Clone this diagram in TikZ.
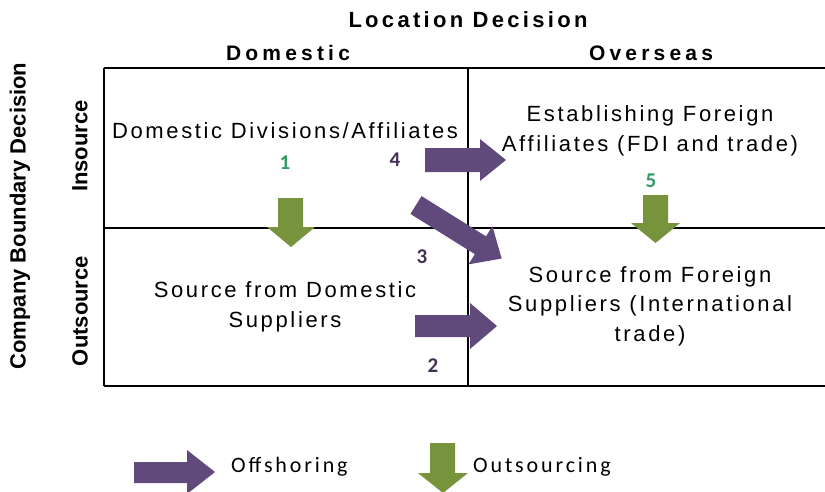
\documentclass[tikz,border=0pt]{standalone}
\usepackage{fontspec}
\setmainfont{Liberation Sans}
\newfontfamily\spaced[LetterSpace=12]{Liberation Sans}
\newfontfamily\spacedhead[LetterSpace=15]{Liberation Sans}
\newfontfamily\spacedcol[LetterSpace=20]{Liberation Sans}
\newfontfamily\numfont{Carlito}
\newfontfamily\legfont[LetterSpace=13]{Carlito}
\definecolor{offpurple}{RGB}{96,74,123}
\definecolor{outgreen}{RGB}{119,147,60}
\definecolor{numgreen}{RGB}{51,153,102}
\definecolor{numpurple}{RGB}{64,49,82}
\begin{document}
\begin{tikzpicture}[x=1pt,y=-1pt,
  gridline/.style={line width=2pt,black},
  celltext/.style={align=center,inner sep=0pt,font=\spaced\fontsize{22}{29.5}\selectfont},
  colhead/.style={inner sep=0pt,font=\spacedcol\bfseries\fontsize{21}{25}\selectfont},
  rowhead/.style={inner sep=0pt,rotate=90,font=\bfseries\fontsize{22}{26}\selectfont},
  numg/.style={inner sep=0pt,text=numgreen,font=\numfont\bfseries\fontsize{21}{24}\selectfont},
  nump/.style={inner sep=0pt,text=numpurple,font=\numfont\bfseries\fontsize{21}{24}\selectfont},
  legtext/.style={inner sep=0pt,anchor=west,font=\legfont\fontsize{22}{26}\selectfont},
  offshore/.style={fill=offpurple},
  outsrc/.style={fill=outgreen}]
\useasboundingbox (0,0) rectangle (825,491);
% grid
\coordinate (tl) at (104,68);
\coordinate (tm) at (468,68);
\coordinate (tr) at (825,68);
\coordinate (ml) at (104,228);
\coordinate (mr) at (825,228);
\coordinate (bl) at (104,386);
\coordinate (bm) at (468,386);
\coordinate (br) at (825,386);
\draw[gridline] (tl) -- (tr);
\draw[gridline] (ml) -- (mr);
\draw[gridline] (bl) -- (br);
\draw[gridline] (tl) -- (bl);
\draw[gridline] (tm) -- (bm);
% headings
\node[inner sep=0pt,font=\spacedhead\bfseries\fontsize{22}{26}\selectfont] (loc) at (468,20) {Location Decision};
\node[colhead] (dom) at (288,53) {Domestic};
\node[colhead] (ovs) at (651,53) {Overseas};
\node[rowhead] (cbd) at (20,216) {Company Boundary Decision};
\node[rowhead] (ins) at (80,146) {Insource};
\node[rowhead] (outs) at (80,311) {Outsource};
% cell texts
\node[celltext] (dd) at (285,131) {Domestic Divisions/Affiliates};
\node[celltext] (ef) at (650,131) {Establishing Foreign\\Affiliates (FDI and trade)};
\node[celltext] (sd) at (285,307) {Source from Domestic\\Suppliers};
\node[celltext] (sf) at (650,306) {Source from Foreign\\Suppliers (International\\trade)};
% numbers
\node[numg] (n1) at (285,163) {1};
\node[nump] (n4) at (395,160) {4};
\node[numg] (n5) at (651,181) {5};
\node[nump] (n3) at (422,257) {3};
\node[nump] (n2) at (433,366) {2};
% offshoring arrows
\fill[offshore] (425,148) -- (480,148) -- (480,139) -- (506,160) -- (480,181) -- (480,172) -- (425,172) -- cycle;
\fill[offshore] (415,315) -- (470,315) -- (470,303) -- (497,326) -- (470,349) -- (470,337) -- (415,337) -- cycle;
\begin{scope}[shift={(416,205)},rotate=-32]
\fill[offshore] (0,-10.5) -- (76,-10.5) -- (76,-22.5) -- (101,0) -- (76,22.5) -- (76,10.5) -- (0,10.5) -- cycle;
\end{scope}
% outsourcing arrows
\fill[outsrc] (278,198) -- (303,198) -- (303,227) -- (315,227) -- (291,247) -- (267,227) -- (278,227) -- cycle;
\fill[outsrc] (643,195) -- (668,195) -- (668,223) -- (680,223) -- (655.5,243) -- (631,223) -- (643,223) -- cycle;
% legend
\fill[offshore] (134,462) -- (187,462) -- (187,450) -- (215,472) -- (187,494) -- (187,483) -- (134,483) -- cycle;
\node[legtext] (lo) at (231,467) {Offshoring};
\fill[outsrc] (430,443) -- (455,443) -- (455,473) -- (468,473) -- (443,493) -- (418,473) -- (430,473) -- cycle;
\node[legtext] (lg) at (473,467) {Outsourcing};
\end{tikzpicture}
\end{document}
